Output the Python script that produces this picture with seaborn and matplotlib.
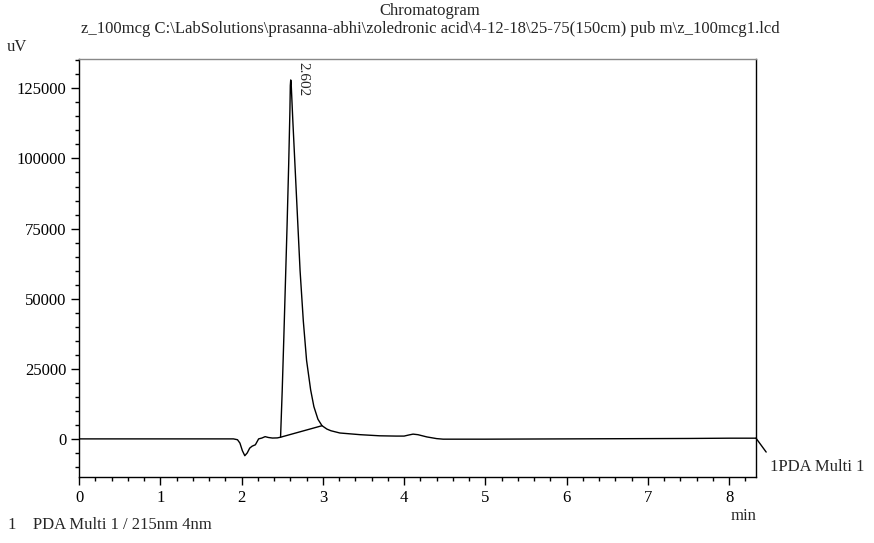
"""Chromatogram of z_100mcg (PDA Multi 1, 215nm) redrawn with seaborn"""

import matplotlib
matplotlib.use('Agg')
import matplotlib.pyplot as plt
from matplotlib.ticker import MultipleLocator
import pandas as pd
import seaborn as sns

# ~~~~~~~~~~   Data   ~~~~~~~~~~~~~~~~~~~~~~~~~~~~~~~~~~~~~~~~~~~~~~~~~~~~~~~~~~~~~~ #
time_min = [0.0, 1.0, 1.90, 1.95, 1.98, 2.01, 2.04, 2.07, 2.10, 2.13, 2.17, 2.21,
            2.25, 2.29, 2.33, 2.38, 2.44, 2.48, 2.50, 2.52, 2.54, 2.56, 2.58, 2.595,
            2.600, 2.605, 2.610, 2.63, 2.66, 2.69, 2.72, 2.76, 2.80, 2.85, 2.89, 2.94,
            2.99, 3.05, 3.10, 3.21, 3.46, 3.70, 3.90, 4.00, 4.06, 4.11, 4.17, 4.28,
            4.40, 4.48, 5.0, 6.0, 7.0, 7.5, 8.0, 8.33]
signal_uv = [0, 0, 0, -300, -1500, -4200, -6000, -5000, -3300, -2600, -2100, 0,
             300, 800, 500, 300, 350, 600, 17000, 36000, 56000, 76000, 98000, 117000,
             126000, 128000, 127000, 114000, 96000, 78000, 60000, 42000, 28000, 17500, 11500, 7000,
             4700, 3500, 2900, 2100, 1500, 1100, 1000, 1000, 1400, 1700, 1500, 700,
             100, -100, -100, 0, 100, 150, 250, 250]

# integration baseline under the main peak
baseline_min = [2.48, 2.99]
baseline_uv = [600, 4700]

peak_rt = 2.602
y_major = [0, 25000, 50000, 75000, 100000, 125000]
x_major = [0, 1, 2, 3, 4, 5, 6, 7, 8]

# ~~~~~~~~~~   Plot   ~~~~~~~~~~~~~~~~~~~~~~~~~~~~~~~~~~~~~~~~~~~~~~~~~~~~~~~~~~~~~~~ #
sns.set_style('ticks')
plt.rcParams['font.family'] = ['Liberation Serif', 'DejaVu Serif']
plt.rcParams['font.size'] = 12

fig = plt.figure(figsize=(8.74, 5.43), dpi=100)
ax = fig.add_axes([0.0904, 0.1215, 0.7746, 0.7695])

trace = pd.DataFrame({'time': time_min, 'signal': signal_uv})
sns.lineplot(data=trace, x='time', y='signal', color='black', linewidth=1.0,
             estimator=None, sort=False, ax=ax)
sns.lineplot(x=baseline_min, y=baseline_uv, color='black', linewidth=1.0,
             estimator=None, sort=False, ax=ax)

ax.set_xlim(0, 8.33)
ax.set_ylim(-13600, 135400)
ax.set_xticks(x_major)
ax.set_yticks(y_major)
ax.xaxis.set_minor_locator(MultipleLocator(0.2))
ax.yaxis.set_minor_locator(MultipleLocator(5000))
ax.tick_params(which='major', direction='out', length=6, width=1, colors='black',
               labelsize=12, pad=3)
ax.tick_params(which='minor', direction='out', length=3, width=1, colors='black')
ax.set_xlabel('')
ax.set_ylabel('')
for side in ['left', 'bottom', 'right', 'top']:
    ax.spines[side].set_visible(True)
    ax.spines[side].set_color('black')
    ax.spines[side].set_linewidth(1.0)
ax.spines['top'].set_color('#888888')

# peak retention-time label
ax.text(peak_rt + 0.15, 134300, f'{peak_rt:.3f}', rotation=270, ha='center', va='top',
        fontsize=11)

# channel leader at right end
ax.plot([time_min[-1], 8.455], [signal_uv[-1], -4700], color='black', lw=1.0,
        clip_on=False)
ax.text(8.505, -10000, '1PDA Multi 1', ha='left', va='center', fontsize=12,
        clip_on=False)

# titles and axis units
fig.text(430 / 874, 1 - 11 / 543, 'Chromatogram', ha='center', va='center', fontsize=12)
fig.text(430 / 874, 1 - 29 / 543,
         r'z_100mcg C:\LabSolutions\prasanna-abhi\zoledronic acid\4-12-18\25-75(150cm) pub m\z_100mcg1.lcd',
         ha='center', va='center', fontsize=12)
fig.text(7 / 874, 1 - 47 / 543, 'uV', ha='left', va='center', fontsize=12)
fig.text(756 / 874, 1 - 516 / 543, 'min', ha='right', va='center', fontsize=12)
fig.text(8 / 874, 1 - 525 / 543, '1    PDA Multi 1 / 215nm 4nm', ha='left', va='center',
         fontsize=12)

fig.savefig('out.png', dpi=100)
